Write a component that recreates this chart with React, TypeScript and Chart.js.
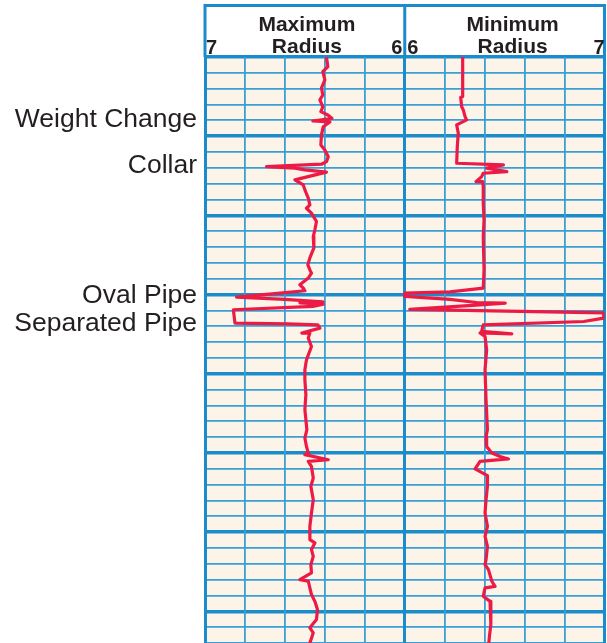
import React, { useEffect, useRef } from 'react';
import { Chart, registerables } from 'chart.js';

Chart.register(...registerables);

// Depth in grid divisions (0 = top of log), radius values
const maxRadiusDepth = [
  0, 0.61, 0.93, 1.45, 1.96, 2.40, 2.71, 3.14, 3.45, 3.66,
  3.87, 4.04, 4.10, 4.40, 4.92, 5.55, 5.87, 6.29, 6.61, 6.77,
  6.92, 7.02, 7.13, 7.27, 7.76, 8.08, 8.39, 8.91, 9.34, 9.55,
  9.86, 10.39, 10.91, 11.34, 12.05, 12.68, 13.12, 13.44, 13.65, 13.96,
  14.38, 14.59, 14.76, 14.89, 15.16, 15.30, 15.46, 15.52, 15.60, 15.75,
  15.96, 16.80, 16.85, 16.91, 17.12, 17.43, 17.43, 17.75, 18.28, 19.12,
  19.75, 20.38, 21.32, 22.27, 22.90, 23.53, 24.06, 24.59, 25.00, 25.11,
  25.43, 25.53, 25.85, 26.58, 27.11, 27.95, 28.79, 29.63, 30.47, 30.68,
  31.10, 31.53, 32.05, 32.57, 33.00, 33.10, 33.52, 33.94, 34.37, 34.89,
  35.52, 36.04, 36.36, 37.3,
];
const maxRadiusValues = [
  6.392, 6.385, 6.41, 6.40, 6.417, 6.41, 6.425, 6.41, 6.42, 6.385,
  6.365, 6.46, 6.375, 6.408, 6.417, 6.42, 6.40, 6.383, 6.392, 6.417,
  6.692, 6.55, 6.50, 6.392, 6.55, 6.508, 6.50, 6.483, 6.475, 6.492,
  6.467, 6.442, 6.45, 6.458, 6.455, 6.475, 6.485, 6.475, 6.467, 6.483,
  6.525, 6.508, 6.50, 6.61, 6.842, 6.60, 6.41, 6.525, 6.408, 6.46,
  6.858, 6.85, 6.585, 6.435, 6.425, 6.515, 6.475, 6.483, 6.467, 6.492,
  6.50, 6.50, 6.495, 6.50, 6.495, 6.49, 6.50, 6.492, 6.483, 6.50,
  6.383, 6.483, 6.467, 6.458, 6.47, 6.458, 6.467, 6.475, 6.475, 6.45,
  6.467, 6.458, 6.47, 6.467, 6.525, 6.483, 6.475, 6.467, 6.45, 6.437,
  6.442, 6.475, 6.458, 6.483,
];

const minRadiusDepth = [
  0, 2.50, 2.56, 3.14, 3.34, 3.77, 3.97, 4.29, 4.81, 5.66,
  6.71, 6.81, 7.02, 7.24, 7.34, 7.55, 7.87, 7.87, 8.18, 9.23,
  10.28, 11.34, 13.44, 14.59, 14.83, 14.91, 15.12, 15.30, 15.50, 15.54,
  15.65, 15.93, 16.15, 16.49, 16.70, 16.91, 17.33, 17.48, 17.42, 17.65,
  18.49, 19.75, 21.64, 23.53, 23.96, 24.59, 25.00, 25.22, 25.38, 25.53,
  26.01, 26.43, 27.11, 27.95, 28.79, 29.63, 30.26, 30.90, 31.74, 32.05,
  32.37, 33.10, 33.42, 33.52, 34.05, 34.37, 35.00, 35.84, 36.57, 37.3,
];
const minRadiusValues = [
  6.29, 6.29, 6.28, 6.285, 6.293, 6.302, 6.31, 6.26, 6.268, 6.263,
  6.26, 6.494, 6.41, 6.511, 6.393, 6.385, 6.357, 6.39, 6.393, 6.393,
  6.397, 6.393, 6.397, 6.393, 6.226, 6.00, 6.00, 6.226, 6.36, 6.503,
  6.377, 6.025, 6.996, 6.996, 6.896, 6.393, 6.385, 6.536, 6.377, 6.402,
  6.41, 6.402, 6.407, 6.414, 6.407, 6.41, 6.436, 6.477, 6.519, 6.377,
  6.352, 6.414, 6.414, 6.407, 6.402, 6.414, 6.402, 6.414, 6.407, 6.402,
  6.419, 6.436, 6.452, 6.402, 6.393, 6.427, 6.431, 6.431, 6.424, 6.419,
];

const eventNames = ['Weight Change', 'Collar', 'Oval Pipe', 'Separated Pipe'];
const eventDepths = [3.97, 6.87, 15.07, 16.86];

const maxTrackTitle = ['Maximum', 'Radius'];
const minTrackTitle = ['Minimum', 'Radius'];
const maxRadiusScale = [7, 6]; // left -> right
const minRadiusScale = [6, 7]; // left -> right
const depthRange = [0, 37];
const radiusRange = [5, 7];

const RED = '#ec1b45';
const BLUE = '#1a8ccc';
const THIN = '#3a9fd6';
const CREAM = '#fcf3e9';
const TEXT = '#231f20';
const FONT = "'Liberation Sans', Arial, Helvetica, sans-serif";

const trackPlugin = {
  id: 'logTrack',
  beforeDraw(chart: any) {
    const { ctx, chartArea: a } = chart;
    ctx.save();
    ctx.fillStyle = CREAM;
    ctx.fillRect(a.left, a.top, a.right - a.left, a.bottom - a.top);
    ctx.restore();
  },
  afterDraw(chart: any) {
    const { ctx, chartArea: a } = chart;
    const mid = chart.scales.x.getPixelForValue(6);
    const top = a.top - 51.5;
    ctx.save();
    ctx.strokeStyle = BLUE;
    ctx.lineWidth = 3;
    ctx.beginPath();
    ctx.moveTo(a.left, top);
    ctx.lineTo(a.right, top);
    ctx.moveTo(a.left, top - 1.5);
    ctx.lineTo(a.left, a.top);
    ctx.moveTo(a.right, top - 1.5);
    ctx.lineTo(a.right, a.top);
    ctx.moveTo(mid, top - 1.5);
    ctx.lineTo(mid, a.top);
    ctx.stroke();

    ctx.fillStyle = TEXT;
    ctx.textBaseline = 'alphabetic';
    ctx.font = `bold 21px ${FONT}`;
    ctx.textAlign = 'center';
    const lc = (a.left + mid) / 2 + 2;
    const rc = (mid + a.right) / 2 + 8;
    ctx.fillText(maxTrackTitle[0], lc, a.top - 26.5);
    ctx.fillText(maxTrackTitle[1], lc, a.top - 4);
    ctx.fillText(minTrackTitle[0], rc, a.top - 26.5);
    ctx.fillText(minTrackTitle[1], rc, a.top - 4);

    ctx.font = `bold 20px ${FONT}`;
    ctx.textAlign = 'left';
    ctx.fillText(String(maxRadiusScale[0]), a.left + 1, a.top - 3);
    ctx.textAlign = 'right';
    ctx.fillText(String(maxRadiusScale[1]), mid - 2.5, a.top - 3);
    ctx.textAlign = 'left';
    ctx.fillText(String(minRadiusScale[0]), mid + 2.5, a.top - 3);
    ctx.textAlign = 'right';
    ctx.fillText(String(minRadiusScale[1]), a.right, a.top - 3);
    ctx.restore();
  },
};

export default function App() {
  const ref = useRef<HTMLCanvasElement | null>(null);

  useEffect(() => {
    if (!ref.current) return;
    const maxPts = maxRadiusDepth.map((d, i) => ({ x: maxRadiusValues[i], y: d }));
    const minPts = minRadiusDepth.map((d, i) => ({ x: minRadiusValues[i], y: d }));
    const lineStyle = {
      borderColor: RED,
      borderWidth: 3.2,
      pointRadius: 0,
      tension: 0,
      fill: false,
      borderJoinStyle: 'round' as const,
      borderCapStyle: 'round' as const,
    };
    const chart = new Chart(ref.current, {
      type: 'line',
      data: {
        datasets: [
          { label: 'Maximum Radius', data: maxPts, xAxisID: 'xL', yAxisID: 'y', ...lineStyle },
          { label: 'Minimum Radius', data: minPts, xAxisID: 'x', yAxisID: 'y', ...lineStyle },
        ],
      },
      options: {
        animation: false,
        responsive: false,
        maintainAspectRatio: false,
        layout: { padding: { left: 0, top: 57, right: 2.5, bottom: 0 } },
        plugins: { legend: { display: false }, tooltip: { enabled: false } },
        scales: {
          yLab: {
            type: 'linear',
            position: 'left',
            min: depthRange[0],
            max: depthRange[1],
            reverse: true,
            grid: { display: false, drawTicks: false },
            border: { display: false },
            afterBuildTicks: (s: any) => {
              s.ticks = eventDepths.map((v) => ({ value: v }));
            },
            afterFit: (s: any) => {
              s.width = 205;
              s.paddingTop = 0;
              s.paddingBottom = 0;
            },
            ticks: {
              autoSkip: false,
              padding: 8,
              color: TEXT,
              font: { family: FONT, size: 26.5 },
              callback: (_v: any, i: number) => eventNames[i],
            },
          },
          y: {
            type: 'linear',
            position: 'left',
            min: depthRange[0],
            max: depthRange[1],
            reverse: true,
            ticks: { display: false, stepSize: 1, maxTicksLimit: 100 },
            border: { display: false },
            afterFit: (s: any) => {
              s.paddingTop = 0;
              s.paddingBottom = 0;
            },
            grid: {
              drawTicks: false,
              color: (c: any) => (Math.round(c.tick.value) % 5 === 0 ? BLUE : THIN),
              lineWidth: (c: any) => (Math.round(c.tick.value) % 5 === 0 ? 3.5 : 1.8),
            },
          },
          x: {
            type: 'linear',
            position: 'bottom',
            min: radiusRange[0],
            max: radiusRange[1],
            ticks: { display: false, stepSize: 0.2, maxTicksLimit: 100 },
            border: { display: false },
            afterFit: (s: any) => {
              s.height = 0;
              s.paddingLeft = 0;
              s.paddingRight = 0;
            },
            grid: {
              drawTicks: false,
              color: (c: any) => {
                const v = c.tick.value;
                return [5, 6, 7].some((k) => Math.abs(v - k) < 1e-6) ? BLUE : THIN;
              },
              lineWidth: (c: any) => {
                const v = c.tick.value;
                return [5, 6, 7].some((k) => Math.abs(v - k) < 1e-6) ? 3 : 1.8;
              },
            },
          },
          xL: {
            type: 'linear',
            display: false,
            min: radiusRange[0],
            max: radiusRange[1],
            reverse: true,
          },
        },
      } as any,
      plugins: [trackPlugin],
    });
    return () => chart.destroy();
  }, []);

  return (
    <div style={{ position: 'absolute', left: 0, top: 0, width: 607, height: 643, overflow: 'hidden' }}>
      <canvas ref={ref} width={607} height={643} style={{ display: 'block' }} />
    </div>
  );
}
